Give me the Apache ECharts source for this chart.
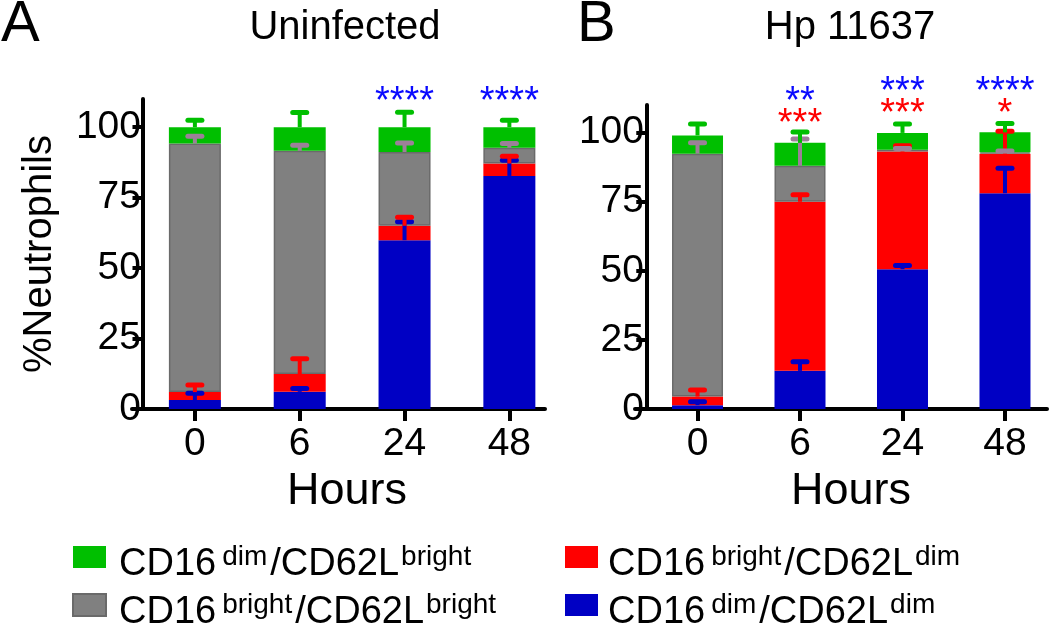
<!DOCTYPE html>
<html>
<head>
<meta charset="utf-8">
<script src="https://cdn.jsdelivr.net/npm/echarts@6/dist/echarts.min.js"></script>
<style>
  html, body { margin: 0; padding: 0; background: #fff; }
  #main { width: 1050px; height: 623px; }
</style>
</head>
<body>
<div id="main"></div>
<script>
var hours = ['0', '6', '24', '48'];
var yTicks = [0, 25, 50, 75, 100];

// A: Uninfected, mean % of each subset (stack order bottom -> top)
var aBlue = [3.2, 6.1, 59.9, 82.7];
var aRed = [2.8, 6.3, 5.1, 4.4];
var aGray = [88.2, 79.2, 26.2, 5.6];
var aGreen = [5.8, 8.4, 8.8, 7.3];
// SD (upper error bars)
var aBlueSd = [2.4, 1.2, 6.5, 5.6];
var aRedSd = [2.5, 5.4, 3.0, 2.6];
var aGraySd = [2.6, 2.0, 3.2, 1.5];
var aGreenSd = [2.5, 5.2, 5.3, 2.5];

// B: Hp 11637
var bBlue = [1.4, 13.8, 50.6, 78.1];
var bRed = [3.1, 61.2, 42.6, 14.3];
var bGray = [87.9, 13.0, 0.6, 0.5];
var bGreen = [6.6, 8.3, 6.1, 7.2];
var bBlueSd = [1.2, 3.3, 1.3, 9.0];
var bRedSd = [2.4, 2.5, 2.1, 8.1];
var bGraySd = [3.9, 9.7, 0.5, 0.5];
var bGreenSd = [4.1, 3.9, 3.2, 3.2];

// significance marks
var aStarsBlue = ['', '', '****', '****'];
var bStarsBlue = ['', '**', '***', '****'];
var bStarsRed = ['', '***', '***', '*'];

var names = ['CD16dim/CD62Ldim', 'CD16bright/CD62Ldim', 'CD16bright/CD62Lbright', 'CD16dim/CD62Lbright'];
var colors = ['#0000c4', '#ff0000', '#808080', '#00bf00'];
var capColors = ['#0000c4', '#ff0000', '#9c8098', '#00bf00'];
var FONT = '"Liberation Sans", Arial, Helvetica, sans-serif';

var legendText = {
  'CD16dim/CD62Lbright': '{a|CD16}{s|dim}{m|/CD62L}{t|bright}',
  'CD16bright/CD62Lbright': '{a|CD16}{s|bright}{m|/CD62L}{t|bright}',
  'CD16bright/CD62Ldim': '{a|CD16}{s|bright}{m|/CD62L}{t|dim}',
  'CD16dim/CD62Ldim': '{a|CD16}{s|dim}{m|/CD62L}{t|dim}'
};

var myChart = echarts.init(document.getElementById('main'));

function xPos(i) { return i + 0.5; }

// value first, x second: so the stack runs on the y values
function barSeries(panel, segs) {
  return segs.map(function (vals, k) {
    return {
      name: names[k],
      type: 'bar',
      stack: 'p' + panel,
      xAxisIndex: panel,
      yAxisIndex: panel,
      barWidth: panel === 0 ? 52 : 51,
      encode: { x: 1, y: 0 },
      itemStyle: {
        color: colors[k],
        borderColor: k === 2 ? '#6a6a6a' : colors[k],
        borderWidth: k === 2 ? 1.5 : 0
      },
      data: vals.map(function (v, i) { return [v, xPos(i)]; })
    };
  });
}

function errSeries(panel, segs, sds) {
  var data = [];
  for (var i = 0; i < hours.length; i++) {
    var base = 0;
    for (var k = 0; k < segs.length; k++) {
      base += segs[k][i];
      data.push([xPos(i), base, base + sds[k][i], k]);
    }
  }
  return {
    type: 'custom',
    xAxisIndex: panel,
    yAxisIndex: panel,
    z: 5,
    silent: true,
    encode: { x: 0, y: [1, 2] },
    renderItem: function (params, api) {
      var x = api.value(0);
      var p0 = api.coord([x, api.value(1)]);
      var p1 = api.coord([x, api.value(2)]);
      var c = capColors[api.value(3)];
      return {
        type: 'group',
        children: [
          { type: 'line', shape: { x1: p0[0], y1: p0[1], x2: p1[0], y2: p1[1] }, style: { stroke: c, lineWidth: 4 } },
          { type: 'line', shape: { x1: p1[0] - 7, y1: p1[1], x2: p1[0] + 7, y2: p1[1] }, style: { stroke: c, lineWidth: 5, lineCap: 'round' } }
        ]
      };
    },
    data: data
  };
}

function starSeries(panel, segs, rows) {
  var data = hours.map(function (h, i) {
    var t = 0;
    segs.forEach(function (s) { t += s[i]; });
    return [xPos(i), t];
  });
  return {
    type: 'custom',
    xAxisIndex: panel,
    yAxisIndex: panel,
    z: 6,
    silent: true,
    renderItem: function (params, api) {
      var i = params.dataIndex;
      var p = api.coord([api.value(0), api.value(1)]);
      var kids = [];
      rows.forEach(function (r) {
        if (!r.stars[i]) return;
        kids.push({
          type: 'text',
          style: {
            text: r.stars[i], x: p[0], y: p[1] - r.lift + 8.7,
            fill: r.color, font: '38px ' + FONT,
            align: 'center', verticalAlign: 'middle'
          }
        });
      });
      return { type: 'group', children: kids };
    },
    data: data
  };
}

function xAxisOf(panel, min, max, shift) {
  return {
    type: 'value',
    gridIndex: panel,
    min: min,
    max: max,
    name: 'Hours',
    nameLocation: 'middle',
    nameGap: 60,
    nameTextStyle: { fontSize: 45, color: '#000', fontFamily: FONT, padding: [0, 0, 0, shift] },
    axisLine: { lineStyle: { color: '#000', width: 4 } },
    axisTick: { length: 12, lineStyle: { color: '#000', width: 4 }, customValues: hours.map(function (h, i) { return xPos(i); }) },
    axisLabel: {
      margin: 16, fontSize: 39, color: '#000', fontFamily: FONT,
      customValues: hours.map(function (h, i) { return xPos(i); }),
      formatter: function (v) { return hours[Math.round(v - 0.5)]; }
    },
    splitLine: { show: false }
  };
}

function yAxisOf(panel, name) {
  return {
    type: 'value',
    gridIndex: panel,
    min: 0,
    max: 110,
    name: name,
    nameLocation: 'middle',
    nameGap: 72,
    nameTextStyle: { fontSize: 40, color: '#000', fontFamily: FONT },
    axisLine: { show: true, onZero: true, lineStyle: { color: '#000', width: 4 } },
    axisTick: { show: true, length: 10, lineStyle: { color: '#000', width: 4 }, customValues: yTicks },
    axisLabel: { margin: -9, fontSize: 39, color: '#000', fontFamily: FONT, customValues: yTicks },
    splitLine: { show: false }
  };
}

function legendOf(left, textGap, data) {
  return {
    data: data,
    orient: 'vertical',
    left: left,
    top: 543,
    height: 130,
    padding: 0,
    icon: 'rect',
    itemWidth: 33,
    itemHeight: 22,
    itemGap: 7,
    selectedMode: false,
    formatter: function (n) { return legendText[n]; },
    textStyle: {
      color: '#000', fontFamily: FONT, fontSize: 38,
      rich: {
        a: { fontSize: 38, lineHeight: 40, verticalAlign: 'bottom', padding: [0, 0, 0, textGap], color: '#000', fontFamily: FONT },
        m: { fontSize: 38, lineHeight: 40, verticalAlign: 'bottom', padding: [0, 0, 0, 3], color: '#000', fontFamily: FONT },
        s: { fontSize: 28, lineHeight: 54, verticalAlign: 'middle', padding: [0, 0, 0, 6], color: '#000', fontFamily: FONT },
        t: { fontSize: 28, lineHeight: 54, verticalAlign: 'middle', padding: [0, 0, 0, 2], color: '#000', fontFamily: FONT }
      }
    }
  };
}

var option = {
  backgroundColor: '#fff',
  animation: false,
  textStyle: { fontFamily: FONT },
  title: [
    { text: 'A', left: 1, top: -4, padding: 0, textStyle: { fontSize: 58, fontWeight: 'normal', color: '#000', fontFamily: FONT } },
    { text: 'Uninfected', left: 345, top: 8, padding: 0, textAlign: 'center', textStyle: { fontSize: 40, fontWeight: 'normal', color: '#000', fontFamily: FONT } },
    { text: 'B', left: 577, top: -4, padding: 0, textStyle: { fontSize: 58, fontWeight: 'normal', color: '#000', fontFamily: FONT } },
    { text: 'Hp 11637', left: 850, top: 8, padding: 0, textAlign: 'center', textStyle: { fontSize: 40, fontWeight: 'normal', color: '#000', fontFamily: FONT } }
  ],
  legend: [
    legendOf(72, 8, ['CD16dim/CD62Lbright', 'CD16bright/CD62Lbright']),
    legendOf(565, 5, ['CD16bright/CD62Ldim', 'CD16dim/CD62Ldim'])
  ],
  grid: [
    { left: 132, right: 505, top: 99, bottom: 214, outerBoundsMode: 'none' },
    { left: 635, right: 3, top: 105, bottom: 214, outerBoundsMode: 'none' }
  ],
  xAxis: [xAxisOf(0, -0.1, 3.84, 17), xAxisOf(1, -0.11, 3.91, 20)],
  yAxis: [yAxisOf(0, '%Neutrophils'), yAxisOf(1, '')],
  series: []
    .concat(barSeries(0, [aBlue, aRed, aGray, aGreen]))
    .concat(barSeries(1, [bBlue, bRed, bGray, bGreen]))
    .concat([
      errSeries(0, [aBlue, aRed, aGray, aGreen], [aBlueSd, aRedSd, aGraySd, aGreenSd]),
      errSeries(1, [bBlue, bRed, bGray, bGreen], [bBlueSd, bRedSd, bGraySd, bGreenSd]),
      starSeries(0, [aBlue, aRed, aGray, aGreen], [{ stars: aStarsBlue, color: '#0a0aff', lift: 33 }]),
      starSeries(1, [bBlue, bRed, bGray, bGreen], [
        { stars: bStarsRed, color: '#ff0000', lift: 27 },
        { stars: bStarsBlue, color: '#0a0aff', lift: 49 }
      ])
    ])
};
myChart.setOption(option);
</script>
</body>
</html>
